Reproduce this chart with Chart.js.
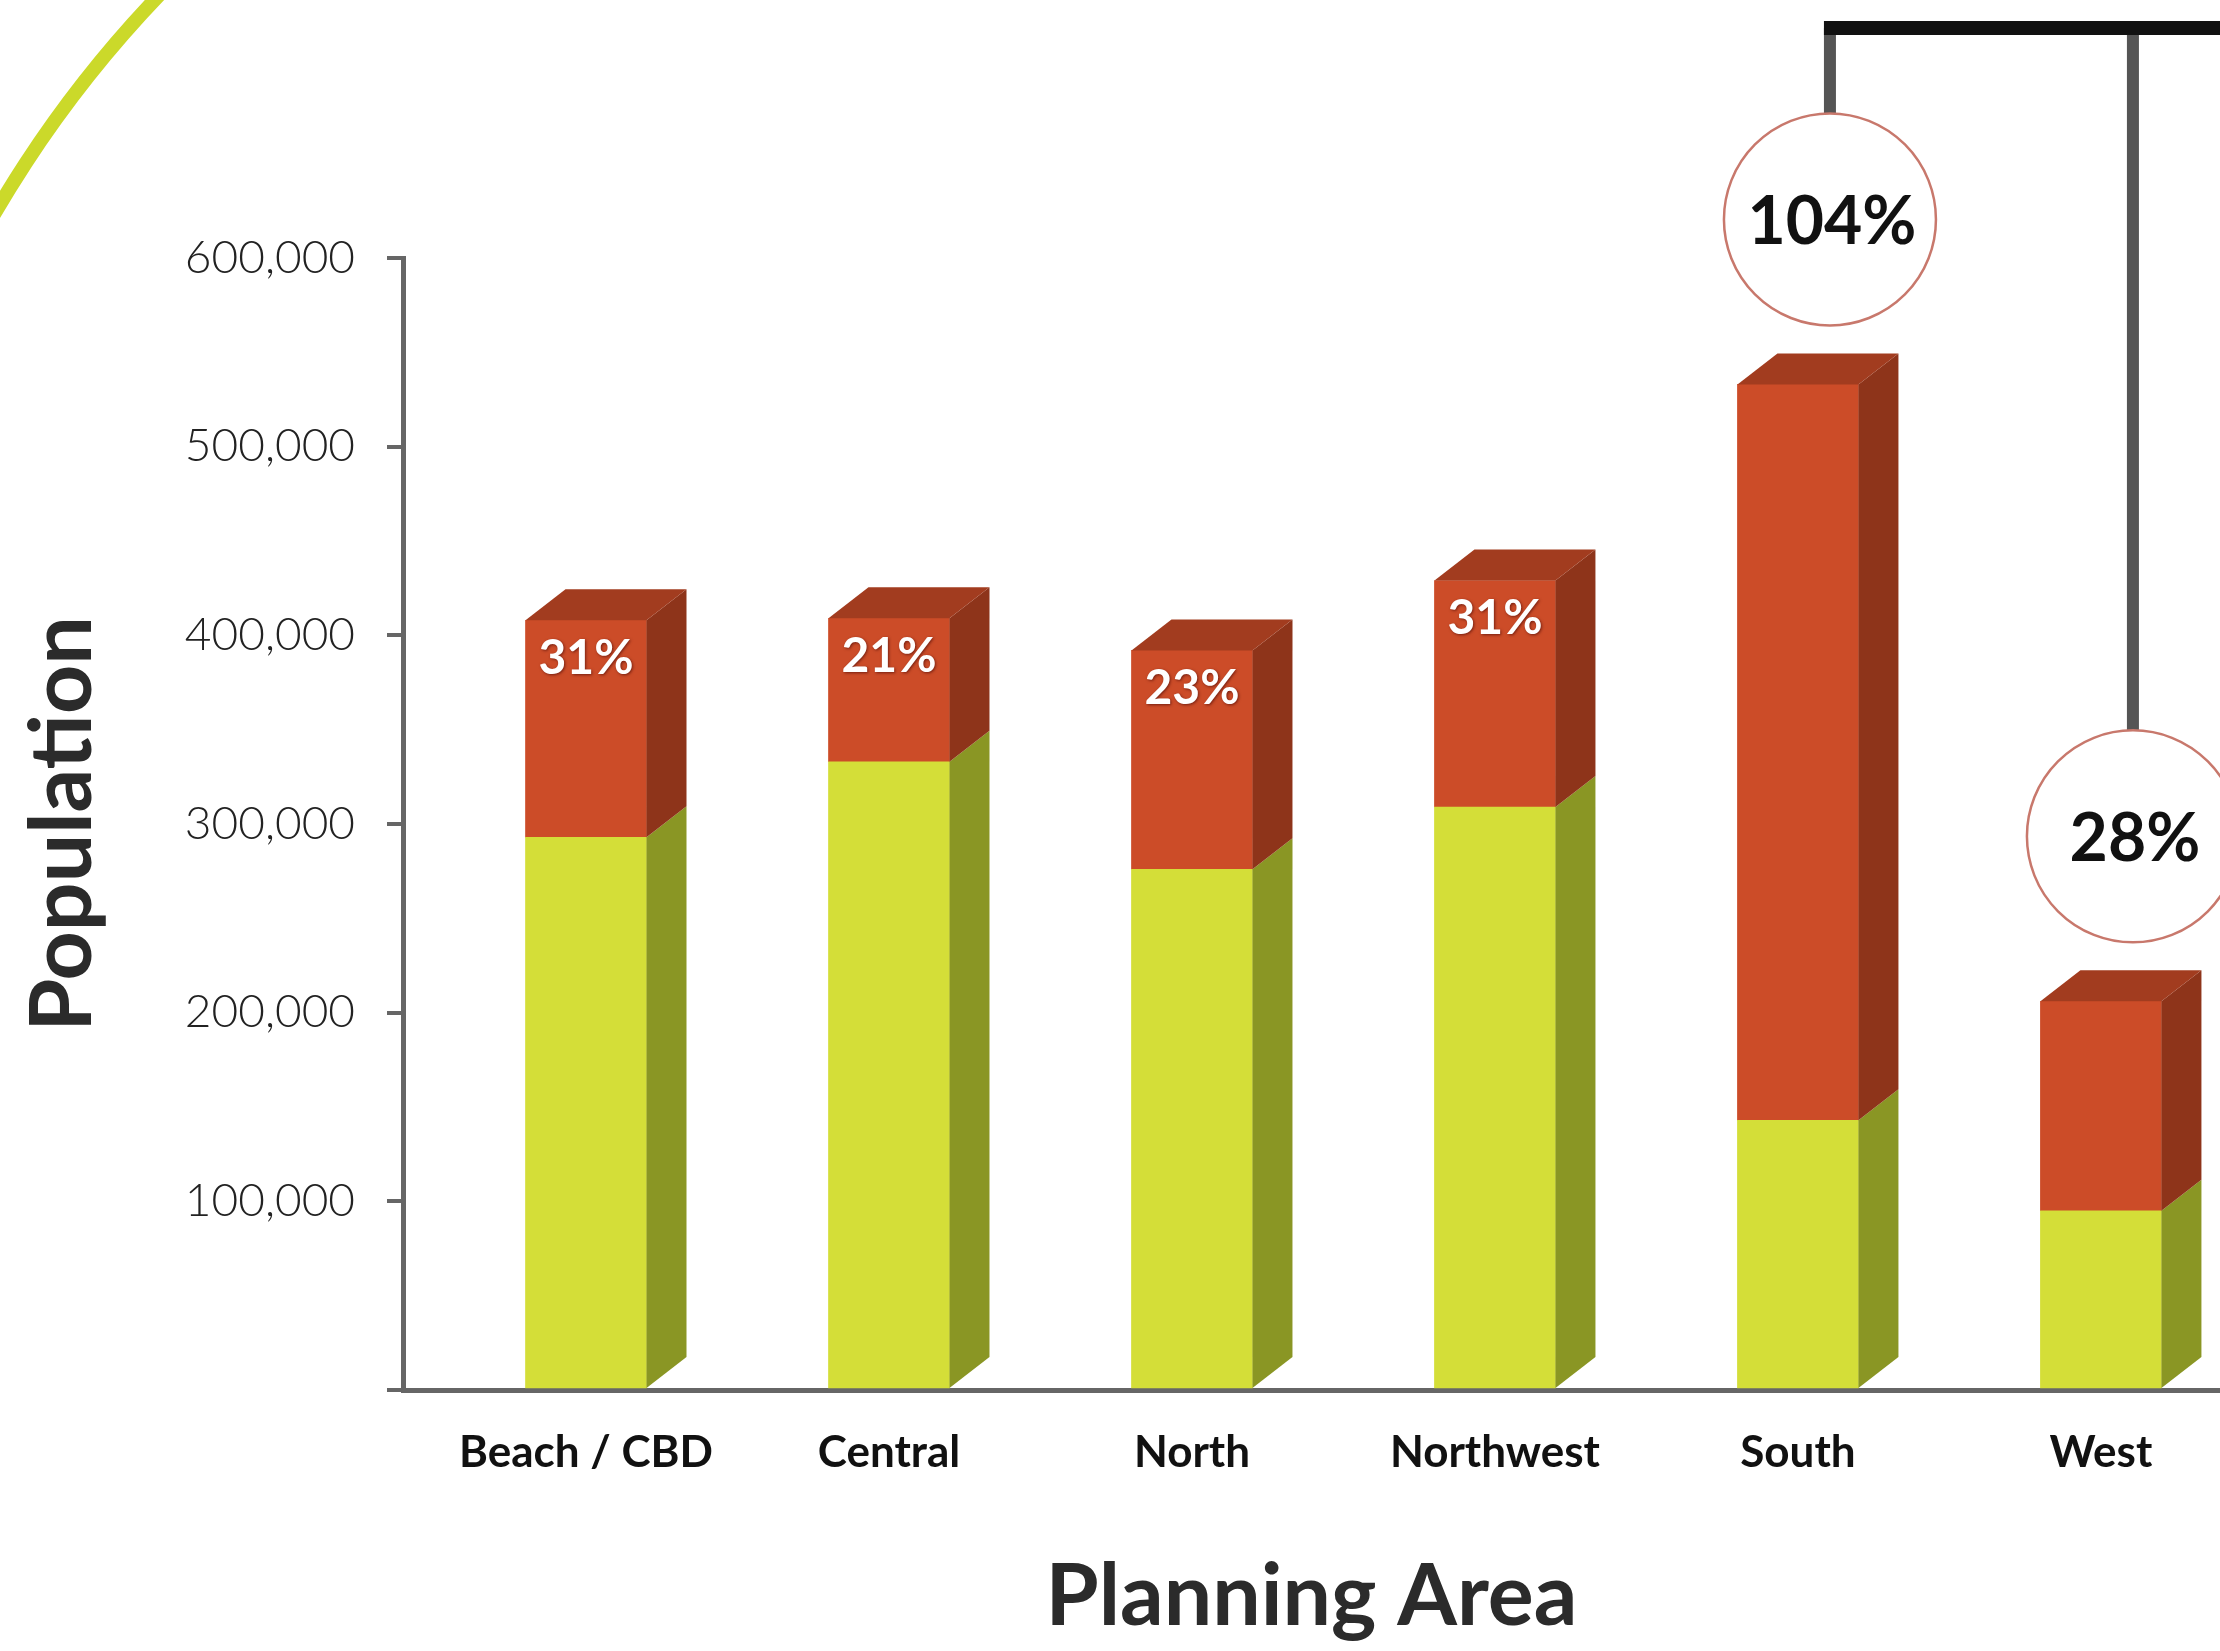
<!DOCTYPE html>
<html>
<head>
<meta charset="utf-8">
<script src="https://cdn.jsdelivr.net/npm/chart.js@4.4.1/dist/chart.umd.min.js"></script>
<style>
    html, body { margin: 0; padding: 0; background: #fff; overflow: hidden; }
    #wrap { width: 2220px; height: 1651px; position: relative; }
</style>
</head>
<body>
<div id="wrap"><canvas id="growth-chart"></canvas></div>
<script>
// Chart data
const categories = ['Beach / CBD', 'Central', 'North', 'Northwest', 'South', 'West'];
const currentPop = [293000, 333000, 276000, 309000, 143000, 95000];
const addedPop = [115000, 76000, 116000, 120000, 390000, 111000];
const growthLabels = ['31%', '21%', '23%', '31%', '104%', '28%'];
const calloutAreas = ['South', 'West'];

const GREEN = '#D4DE38', GREEN_SIDE = '#8A9624';
const RED = '#CC4C28', RED_SIDE = '#8E341A', RED_TOP = '#A23C1F';
const DEPTH_X = 40, DEPTH_Y = 31;

// Draws the side / top faces so the bars look like the 3D columns
const columns3d = {
    id: 'columns3d',
    beforeDraw(chart) {
        // decorative lime arc in the corner
        const ctx = chart.ctx;
        ctx.save();
        ctx.strokeStyle = '#CBD92A';
        ctx.lineWidth = 14;
        ctx.beginPath();
        ctx.arc(1000, 800, 1164, Math.PI * 1.0, Math.PI * 1.5);
        ctx.stroke();
        ctx.restore();
    },
    afterDatasetsDraw(chart) {
        const ctx = chart.ctx;
        const sides = [GREEN_SIDE, RED_SIDE];
        ctx.save();
        chart.data.datasets.forEach((ds, di) => {
            const meta = chart.getDatasetMeta(di);
            meta.data.forEach(bar => {
                const right = bar.x + bar.width / 2;
                const left = bar.x - bar.width / 2;
                const top = Math.min(bar.y, bar.base);
                const bottom = Math.max(bar.y, bar.base);
                ctx.fillStyle = sides[di];
                ctx.beginPath();
                ctx.moveTo(right, top);
                ctx.lineTo(right + DEPTH_X, top - DEPTH_Y);
                ctx.lineTo(right + DEPTH_X, bottom - DEPTH_Y);
                ctx.lineTo(right, bottom);
                ctx.closePath();
                ctx.fill();
                if (di === chart.data.datasets.length - 1) {
                    ctx.fillStyle = RED_TOP;
                    ctx.beginPath();
                    ctx.moveTo(left, top);
                    ctx.lineTo(left + DEPTH_X, top - DEPTH_Y);
                    ctx.lineTo(right + DEPTH_X, top - DEPTH_Y);
                    ctx.lineTo(right, top);
                    ctx.closePath();
                    ctx.fill();
                }
            });
        });
        ctx.restore();
    },
    afterDraw(chart) {
        const ctx = chart.ctx;
        const meta = chart.getDatasetMeta(1);
        const lineTop = 28;
        const callouts = [];
        ctx.save();
        ctx.textAlign = 'center';
        ctx.textBaseline = 'middle';
        meta.data.forEach((bar, i) => {
            if (calloutAreas.includes(categories[i])) {
                callouts.push({ x: bar.x + 32, y: bar.y - 165, text: growthLabels[i] });
                return;
            }
            ctx.font = 'bold 48px Lato, "Open Sans", sans-serif';
            ctx.fillStyle = '#fff';
            ctx.shadowColor = 'rgba(60,0,0,0.6)';
            ctx.shadowBlur = 3;
            ctx.shadowOffsetX = 1;
            ctx.shadowOffsetY = 1;
            ctx.fillText(growthLabels[i], bar.x, bar.y + 38);
        });
        ctx.shadowColor = 'transparent';

        // connector lines to the callouts
        const r = 106;
        if (callouts.length) {
            ctx.strokeStyle = '#555';
            ctx.lineWidth = 12;
            callouts.forEach(c => {
                ctx.beginPath();
                ctx.moveTo(c.x, c.y - r);
                ctx.lineTo(c.x, lineTop);
                ctx.stroke();
            });
            ctx.strokeStyle = '#111';
            ctx.lineWidth = 14;
            ctx.beginPath();
            ctx.moveTo(callouts[0].x - 6, lineTop);
            ctx.lineTo(chart.width, lineTop);
            ctx.stroke();
        }

        callouts.forEach(c => {
            ctx.beginPath();
            ctx.arc(c.x, c.y, r, 0, Math.PI * 2);
            ctx.fillStyle = '#fff';
            ctx.fill();
            ctx.strokeStyle = '#C8786C';
            ctx.lineWidth = 2.5;
            ctx.stroke();
            ctx.font = 'bold 66px Lato, "Open Sans", sans-serif';
            ctx.fillStyle = '#111';
            ctx.fillText(c.text, c.x + 2, c.y + 3);
        });
        ctx.restore();
    }
};

const greenData = currentPop.map((v, i) => ({ x: i, y: v }));
const redData = addedPop.map((v, i) => ({ x: i, y: v }));

new Chart(document.getElementById('growth-chart'), {
    type: 'bar',
    data: {
        datasets: [
            { label: 'Current', data: greenData, backgroundColor: GREEN, borderWidth: 0, barThickness: 121 },
            { label: 'Added', data: redData, backgroundColor: RED, borderWidth: 0, barThickness: 121 }
        ]
    },
    options: {
        responsive: true,
        maintainAspectRatio: false,
        animation: false,
        devicePixelRatio: 1,
        layout: { padding: { top: 258, right: 0, left: 0, bottom: 0 } },
        plugins: {
            legend: { display: false },
            tooltip: { enabled: false }
        },
        scales: {
            x: {
                type: 'linear',
                stacked: true,
                offset: false,
                min: -0.604,
                max: 5.393,
                afterFit: s => { s.height = 261; },
                grid: { display: false, drawTicks: false },
                border: { display: true, color: '#666', width: 5 },
                ticks: {
                    stepSize: 1,
                    includeBounds: false,
                    autoSkip: false,
                    maxRotation: 0,
                    padding: 36,
                    color: '#111',
                    font: { family: 'Lato, "Open Sans", sans-serif', size: 44, weight: 'bold' },
                    callback: v => (Number.isInteger(v) && categories[v]) ? categories[v] : ''
                },
                title: {
                    display: true,
                    text: 'Planning Area',
                    color: '#2b2b2b',
                    padding: { top: 0, bottom: 2 },
                    font: { family: 'Lato, "Open Sans", sans-serif', size: 86, weight: 'bold' }
                }
            },
            y: {
                stacked: true,
                min: 0,
                max: 600000,
                afterFit: s => { s.width = 403; },
                grid: { drawOnChartArea: false, drawTicks: true, tickLength: 16, color: '#666', lineWidth: 4 },
                border: { display: true, color: '#666', width: 5 },
                ticks: {
                    stepSize: 100000,
                    padding: 32,
                    color: '#222',
                    font: { family: 'Lato, "Open Sans", sans-serif', size: 46, weight: '300' },
                    callback: v => v === 0 ? '' : v.toLocaleString('en-US')
                },
                title: {
                    display: true,
                    text: 'Population',
                    color: '#2b2b2b',
                    padding: { top: 12, bottom: 0 },
                    font: { family: 'Lato, "Open Sans", sans-serif', size: 86, weight: 'bold' }
                }
            }
        }
    },
    plugins: [columns3d]
});
</script>
</body>
</html>
